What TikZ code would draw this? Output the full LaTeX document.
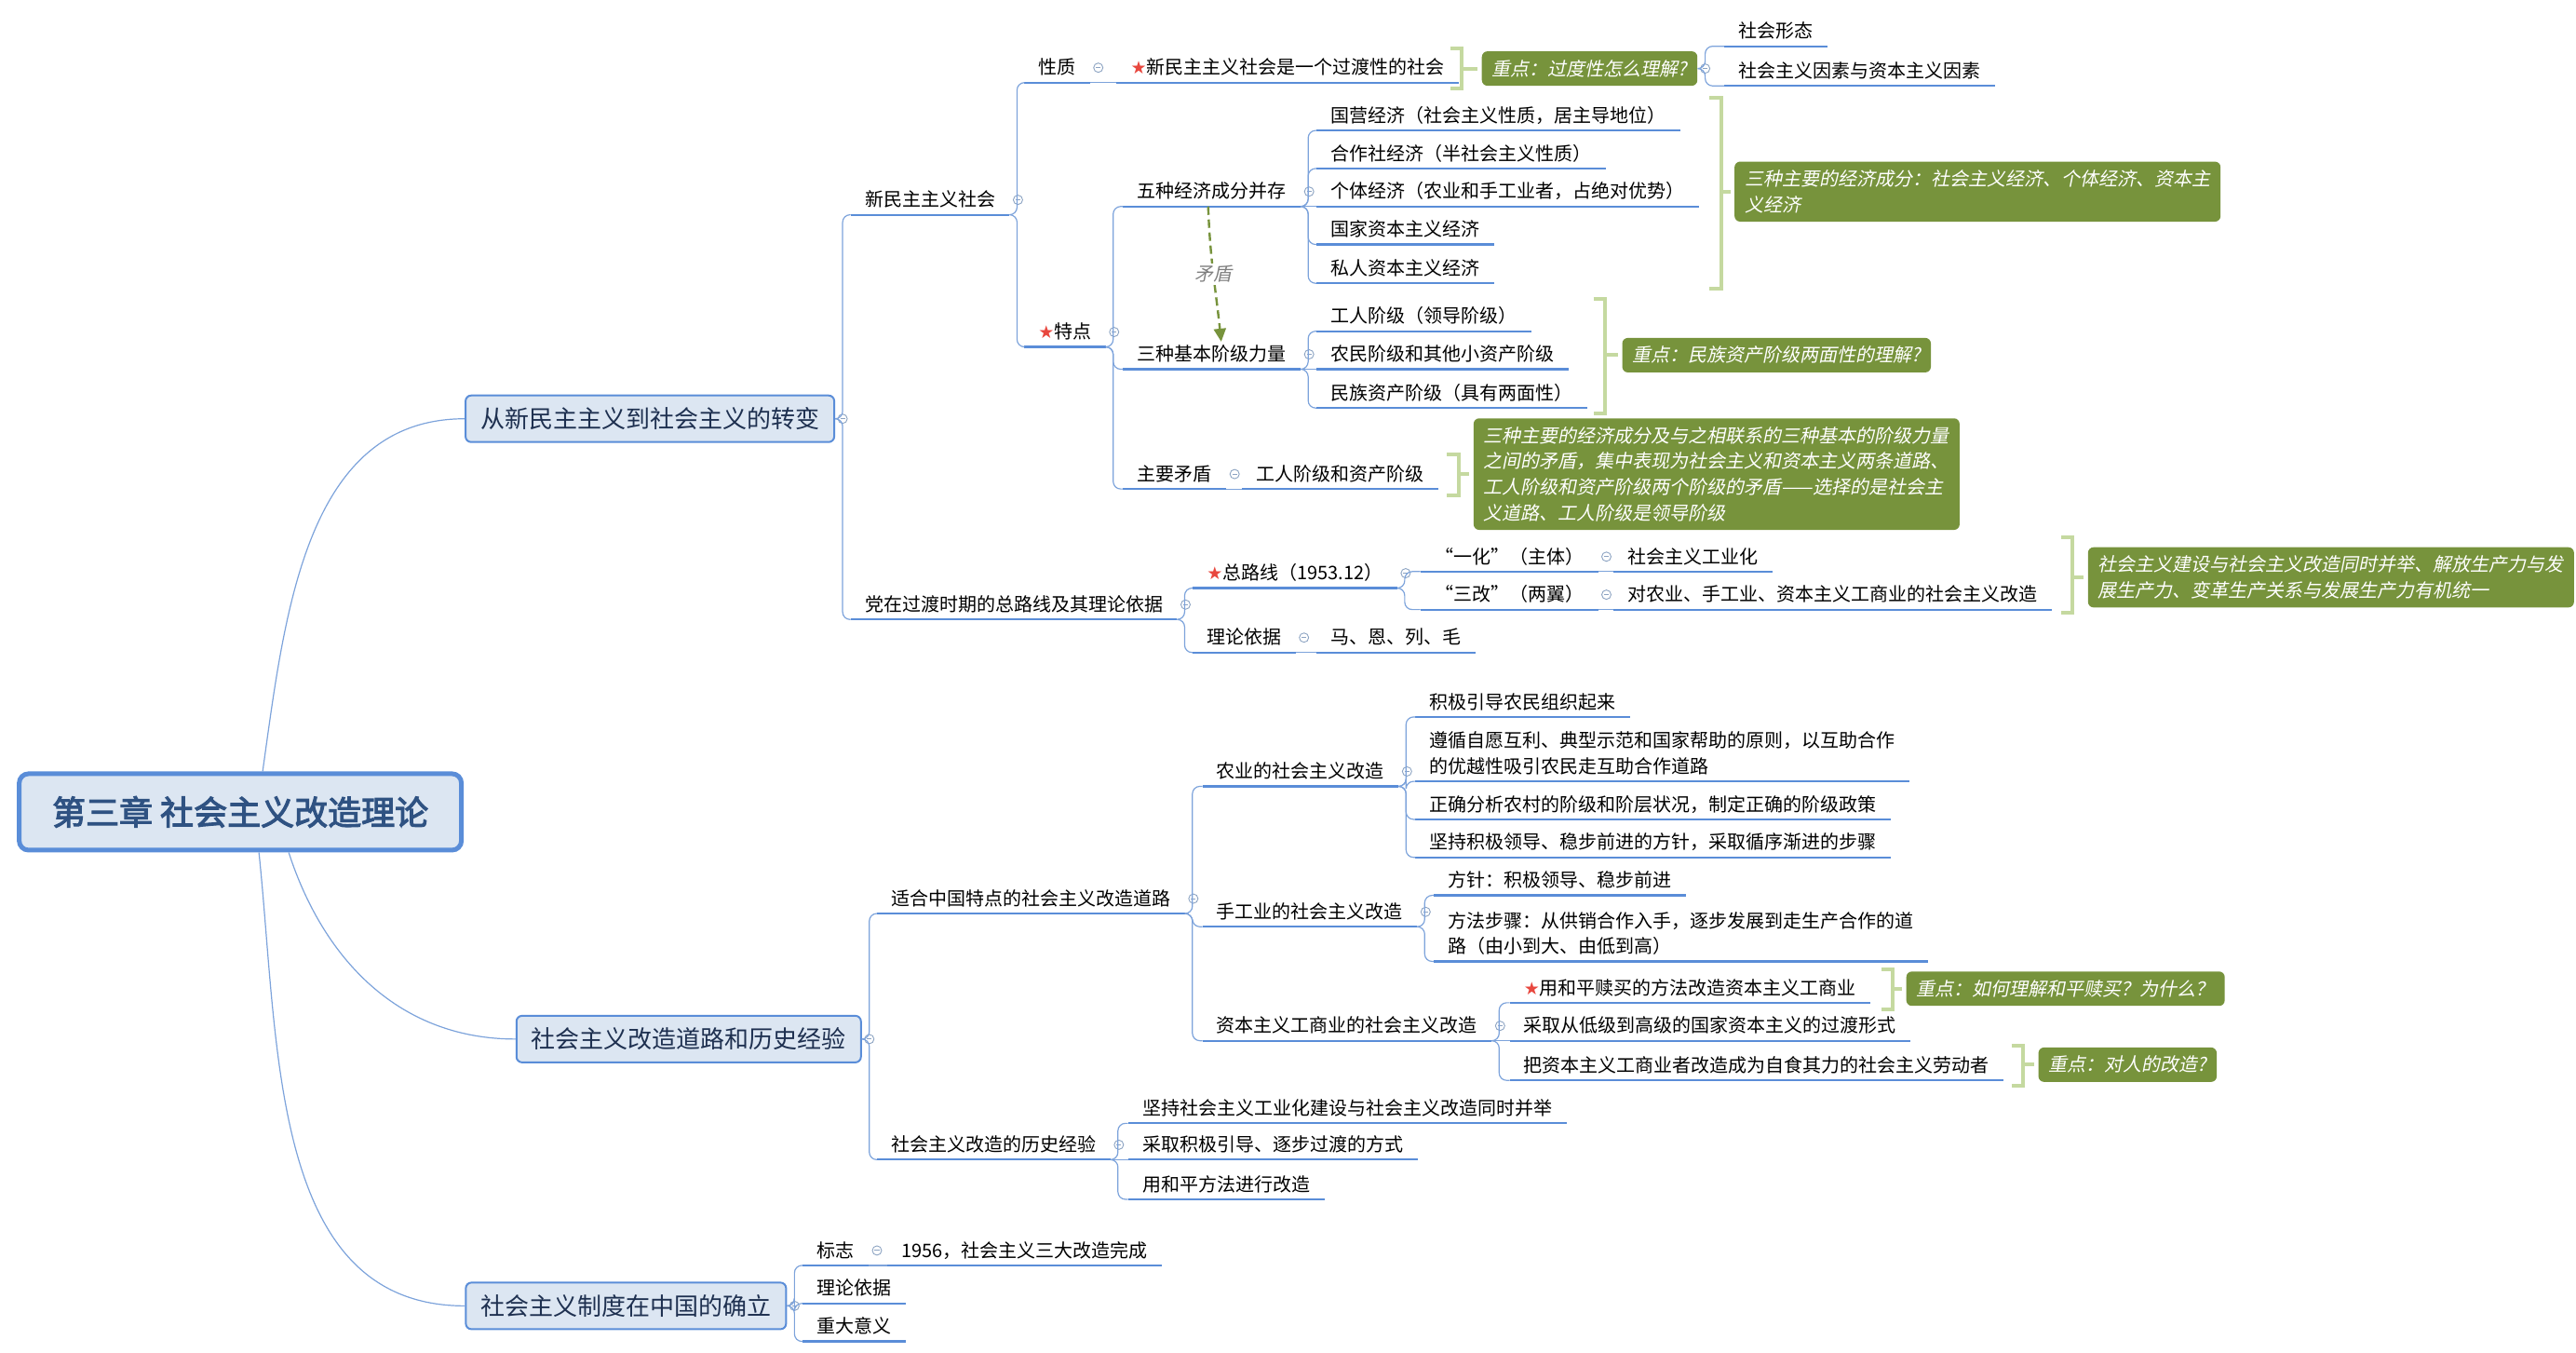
\documentclass[tikz,border=0pt]{standalone}
\usepackage{fontspec}
\setmainfont{Noto Sans CJK SC}
\newfontfamily\notefont[FakeSlant=0.2]{Noto Sans CJK SC}
\newfontfamily\titlefont[FakeBold=3]{Noto Sans CJK SC}
\newfontfamily\symfont{DejaVu Sans}
\usepackage{tikz}
\usetikzlibrary{arrows.meta}
\tikzset{>=Stealth}

\definecolor{ulinec}{HTML}{5A8DD8}
\definecolor{connc}{HTML}{7DA3DB}
\definecolor{boxfill}{HTML}{DCE6F2}
\definecolor{boxdraw}{HTML}{5A8DD8}
\definecolor{titlec}{HTML}{2F5282}
\definecolor{branchc}{HTML}{1E3050}
\definecolor{notec}{HTML}{77933C}
\definecolor{brkc}{HTML}{C5D9A0}
\definecolor{starc}{HTML}{E8473E}
\definecolor{foldc}{HTML}{8CA3C2}
\definecolor{labelc}{HTML}{7F7F7F}

\newcommand{\topicsize}{\fontsize{10}{13.8}\selectfont}
\newcommand{\redstar}{{\symfont\fontsize{9.5}{10}\selectfont\textcolor{starc}{★}}}

\tikzset{
    topic/.style={anchor=south west, inner xsep=7.5pt, inner ysep=2.2pt,
        text height=8pt, text depth=2pt, font=\topicsize,
        append after command={(\tikzlastnode.south west) edge[uline] (\tikzlastnode.south east)}},
    uline/.style={draw=ulinec, line width=1.1pt},
    foldmark/.style={circle, draw=foldc, line width=0.45pt, inner sep=0pt, minimum size=5pt,
        path picture={\draw[foldc, line width=0.45pt]
            ([xshift=-1.3pt]path picture bounding box.center) -- ([xshift=1.3pt]path picture bounding box.center);}},
    folded/.style={append after command={node[foldmark] at ([shift={(4.5pt,8pt)}]\tikzlastnode.south east) {}}},
    branchfold/.style={append after command={node[foldmark] at ([xshift=4pt]\tikzlastnode.east) {}}},
    rootbox/.style={draw=boxdraw, line width=2.5pt, fill=boxfill, rounded corners=5pt,
        minimum width=237.5pt, minimum height=41pt, text=titlec,
        font=\titlefont\fontsize{18}{20}\selectfont},
    branch/.style={draw=boxdraw, line width=1pt, fill=boxfill, rounded corners=3pt,
        inner xsep=8pt, minimum height=25pt, text=branchc, font=\fontsize{13}{15}\selectfont},
    note/.style={anchor=west, fill=notec, rounded corners=3pt, text=white, align=left,
        inner xsep=5.5pt, inner ysep=4.6pt, font=\notefont\topicsize},
    brk/.style={draw=brkc, line width=2pt},
    conn/.style={draw=connc, line width=0.6pt},
    elbow/.style={rounded corners=4pt, to path={-- ++(4.5,0) |- (\tikztotarget)}},
    contra/.style={draw=notec, line width=1.2pt, dash pattern=on 4.5pt off 2.5pt,
        -{Triangle[length=7pt,width=6.5pt]}}
}

\begin{document}
\begin{tikzpicture}[x=0.887pt,y=-0.887pt]
    \useasboundingbox (0,0) rectangle (1559.7,819);
    \node[rootbox] at (145.5,491.5) (root) {第三章 社会主义改造理论};
    \node[branch,branchfold] at (393.5,253.5) (zb) {从新民主主义到社会主义的转变};
    \node[branch,branchfold] at (417,629) (gz) {社会主义改造道路和历史经验};
    \node[branch,branchfold] at (379,790.5) (ql) {社会主义制度在中国的确立};
    % first branch
    \node[topic,folded] at (515,130) (xmzy) {新民主主义社会};
    \node[topic,folded] at (515,375) (dzgd) {党在过渡时期的总路线及其理论依据};
    \node[topic,folded] at (620,50) (xz) {性质};
    \node[topic] at (676,50) (xz1) {\redstar{}新民主主义社会是一个过渡性的社会};
    \node[topic,folded] at (620,210) (td) {\redstar{}特点};
    \node[topic,folded] at (680,125) (wz) {五种经济成分并存};
    \node[topic] at (797,79) (wz1) {国营经济（社会主义性质，居主导地位）};
    \node[topic] at (797,102) (wz2) {合作社经济（半社会主义性质）};
    \node[topic] at (797,125) (wz3) {个体经济（农业和手工业者，占绝对优势）};
    \node[topic] at (797,148) (wz4) {国家资本主义经济};
    \node[topic] at (797,171.5) (wz5) {私人资本主义经济};
    \node[topic,folded] at (680,223.5) (sz) {三种基本阶级力量};
    \node[topic] at (797,200.5) (sz1) {工人阶级（领导阶级）};
    \node[topic] at (797,223.5) (sz2) {农民阶级和其他小资产阶级};
    \node[topic] at (797,247) (sz3) {民族资产阶级（具有两面性）};
    \node[topic,folded] at (680,296) (zy) {主要矛盾};
    \node[topic] at (752,296) (zy1) {工人阶级和资产阶级};
    \node[topic,folded] at (722,356) (zlx) {\redstar{}总路线（1953.12）};
    \node[topic,folded] at (860,346) (yh) {“一化”（主体）};
    \node[topic] at (977,346) (yh1) {社会主义工业化};
    \node[topic,folded] at (860,369) (sg) {“三改”（两翼）};
    \node[topic] at (977,369) (sg1) {对农业、手工业、资本主义工商业的社会主义改造};
    \node[topic,folded] at (722,395) (lly) {理论依据};
    \node[topic] at (797,395) (lly1) {马、恩、列、毛};
    % second branch
    \node[topic,folded] at (531,553) (shd) {适合中国特点的社会主义改造道路};
    \node[topic,folded] at (531,702) (lsjy) {社会主义改造的历史经验};
    \node[topic,folded] at (728,476) (ny) {农业的社会主义改造};
    \node[topic] at (857,434) (ny1) {积极引导农民组织起来};
    \node[topic,align=left,text height=21.8pt] at (857,473) (ny2) {遵循自愿互利、典型示范和国家帮助的原则，以互助合作\\的优越性吸引农民走互助合作道路};
    \node[topic] at (857,496) (ny3) {正确分析农村的阶级和阶层状况，制定正确的阶级政策};
    \node[topic] at (857,519) (ny4) {坚持积极领导、稳步前进的方针，采取循序渐进的步骤};
    \node[topic,folded] at (728,561) (sgy) {手工业的社会主义改造};
    \node[topic] at (868,542) (sgy1) {方针：积极领导、稳步前进};
    \node[topic,align=left,text height=21.8pt] at (868,582) (sgy2) {方法步骤：从供销合作入手，逐步发展到走生产合作的道\\路（由小到大、由低到高）};
    \node[topic,folded] at (728,630) (zbgs) {资本主义工商业的社会主义改造};
    \node[topic] at (914,607) (zbgs1) {\redstar{}用和平赎买的方法改造资本主义工商业};
    \node[topic] at (914,630) (zbgs2) {采取从低级到高级的国家资本主义的过渡形式};
    \node[topic] at (914,654) (zbgs3) {把资本主义工商业者改造成为自食其力的社会主义劳动者};
    \node[topic] at (683,680) (lsjy1) {坚持社会主义工业化建设与社会主义改造同时并举};
    \node[topic] at (683,702) (lsjy2) {采取积极引导、逐步过渡的方式};
    \node[topic] at (683,726) (lsjy3) {用和平方法进行改造};
    % third branch
    \node[topic,folded] at (486,766) (bz) {标志};
    \node[topic] at (537,766) (bz1) {1956，社会主义三大改造完成};
    \node[topic] at (486,789) (llyj) {理论依据};
    \node[topic] at (486,812) (zdyy) {重大意义};
    % notes
    \node[note,branchfold] at (897,41.5) (gdx) {重点：过度性怎么理解?};
    \node[topic] at (1044,28) (gdx1) {社会形态};
    \node[topic] at (1044,52) (gdx2) {社会主义因素与资本主义因素};
    \node[note] at (1050,116) (jjcf) {三种主要的经济成分：社会主义经济、个体经济、资本主\\义经济};
    \node[note] at (982,215) (lmx) {重点：民族资产阶级两面性的理解?};
    \node[note] at (892,287) (mdun) {三种主要的经济成分及与之相联系的三种基本的阶级力量\\之间的矛盾，集中表现为社会主义和资本主义两条道路、\\工人阶级和资产阶级两个阶级的矛盾——选择的是社会主\\义道路、工人阶级是领导阶级};
    \node[note] at (1264,349.5) (tsbj) {社会主义建设与社会主义改造同时并举、解放生产力与发\\展生产力、变革生产关系与发展生产力有机统一};
    \node[note] at (1154,598.5) (hpsm) {重点：如何理解和平赎买？为什么？};
    \node[note] at (1234,644.5) (drgz) {重点：对人的改造?};
    % brackets
    \draw[brk] (878,29.5) -| (885,53.5) -- (878,53.5) (885,41.5) -- ([xshift=-2pt]gdx.west);
    \draw[brk] (1035,59) -| (1042,175) -- (1035,175) (1042,116) -- ([xshift=-2pt]jjcf.west);
    \draw[brk] (965,181) -| (972,250) -- (965,250) (972,215) -- ([xshift=-2pt]lmx.west);
    \draw[brk] (876,275) -| (883,300) -- (876,300) (883,287) -- ([xshift=-2pt]mdun.west);
    \draw[brk] (1248,325) -| (1255,371) -- (1248,371) (1255,349.5) -- ([xshift=-2pt]tsbj.west);
    \draw[brk] (1139,587) -| (1146,611) -- (1139,611) (1146,598.5) -- ([xshift=-2pt]hpsm.west);
    \draw[brk] (1218,633) -| (1225,657) -- (1218,657) (1225,644.5) -- ([xshift=-2pt]drgz.west);
    % connectors
    \path[conn]
    ([xshift=12pt]root.north) edge [out = 82, in = 180] (zb.west)
    ([xshift=26pt]root.south) edge [out = -72, in = 180] (gz.west)
    ([xshift=10pt]root.south) edge [out = -84, in = 180] (ql.west)
    (zb.east) edge [elbow] (xmzy.south west)
    (zb.east) edge [elbow] (dzgd.south west)
    (xmzy.south east) edge [elbow] (xz.south west)
    (xmzy.south east) edge [elbow] (td.south west)
    (xz.south east) edge (xz1.south west)
    (gdx.east) edge [elbow] (gdx1.south west)
    (gdx.east) edge [elbow] (gdx2.south west)
    (td.south east) edge [elbow] (wz.south west)
    (td.south east) edge [elbow] (sz.south west)
    (td.south east) edge [elbow] (zy.south west)
    (wz.south east) edge [elbow] (wz1.south west)
    (wz.south east) edge [elbow] (wz2.south west)
    (wz.south east) edge (wz3.south west)
    (wz.south east) edge [elbow] (wz4.south west)
    (wz.south east) edge [elbow] (wz5.south west)
    (sz.south east) edge [elbow] (sz1.south west)
    (sz.south east) edge (sz2.south west)
    (sz.south east) edge [elbow] (sz3.south west)
    (zy.south east) edge (zy1.south west)
    (dzgd.south east) edge [elbow] (zlx.south west)
    (dzgd.south east) edge [elbow] (lly.south west)
    (zlx.south east) edge [elbow] (yh.south west)
    (zlx.south east) edge [elbow] (sg.south west)
    (yh.south east) edge (yh1.south west)
    (sg.south east) edge (sg1.south west)
    (lly.south east) edge (lly1.south west)
    (gz.east) edge [elbow] (shd.south west)
    (gz.east) edge [elbow] (lsjy.south west)
    (shd.south east) edge [elbow] (ny.south west)
    (shd.south east) edge [elbow] (sgy.south west)
    (shd.south east) edge [elbow] (zbgs.south west)
    (ny.south east) edge [elbow] (ny1.south west)
    (ny.south east) edge [elbow] (ny2.south west)
    (ny.south east) edge [elbow] (ny3.south west)
    (ny.south east) edge [elbow] (ny4.south west)
    (sgy.south east) edge [elbow] (sgy1.south west)
    (sgy.south east) edge [elbow] (sgy2.south west)
    (zbgs.south east) edge [elbow] (zbgs1.south west)
    (zbgs.south east) edge (zbgs2.south west)
    (zbgs.south east) edge [elbow] (zbgs3.south west)
    (lsjy.south east) edge [elbow] (lsjy1.south west)
    (lsjy.south east) edge (lsjy2.south west)
    (lsjy.south east) edge [elbow] (lsjy3.south west)
    (ql.east) edge [elbow] (bz.south west)
    (ql.east) edge [elbow] (llyj.south west)
    (ql.east) edge [elbow] (zdyy.south west)
    (bz.south east) edge (bz1.south west)
    ;
    \draw[contra] ([xshift=-2pt]wz.south) to [out = -88, in = 96]
        node[fill=white, inner sep=1pt, text=labelc, font=\notefont\topicsize] {矛盾} ([xshift=5pt]sz.north);
\end{tikzpicture}
\end{document}
